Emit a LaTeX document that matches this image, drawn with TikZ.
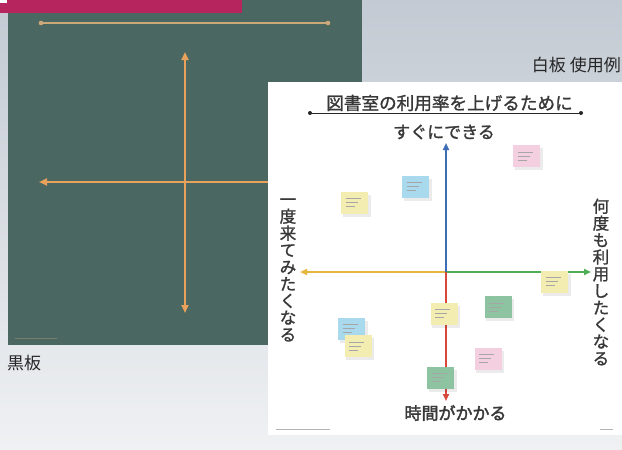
\documentclass[tikz,border=0pt]{standalone}
\usepackage{fontspec}
\setmainfont{Noto Sans CJK JP}
\newfontfamily\jpmed{Noto Sans CJK JP}[FakeBold=1.3]
\newfontfamily\jpbold{Noto Sans CJK JP}[FakeBold=2.2]
\usetikzlibrary{arrows.meta}
\definecolor{bgtop}{HTML}{C3CAD3}
\definecolor{bgbot}{HTML}{EFF1F3}
\definecolor{board}{HTML}{4A6761}
\definecolor{chalk}{HTML}{E9A25C}
\definecolor{chalkthin}{HTML}{CDA878}
\definecolor{mag}{HTML}{B7255F}
\definecolor{ink}{HTML}{383838}
\definecolor{axblue}{HTML}{3E6DB5}
\definecolor{axred}{HTML}{D9473B}
\definecolor{axyel}{HTML}{E7B63F}
\definecolor{axgrn}{HTML}{4DAE55}
\definecolor{ny}{HTML}{F3EDB2}
\definecolor{nb}{HTML}{A9D9EC}
\definecolor{np}{HTML}{F4CFE0}
\definecolor{ng}{HTML}{8DC3A0}
\tikzset{
  chalkarrow/.style={draw=chalk, line width=2.2pt, -{Triangle[length=8pt,width=7pt]}},
  axis/.style={line width=2pt, -{Triangle[length=7pt,width=6pt]}},
  note/.style={fill=#1, minimum width=27pt, minimum height=22pt, inner sep=0pt,
    path picture={
      \draw[gray!70, line width=0.5pt] ([shift={(-9,-4)}]path picture bounding box.center) -- ++(15,0);
      \draw[gray!70, line width=0.5pt] ([shift={(-9,0)}]path picture bounding box.center) -- ++(12,0);
      \draw[gray!70, line width=0.5pt] ([shift={(-9,4)}]path picture bounding box.center) -- ++(9,0);
    }},
  noteshadow/.style={fill=black, opacity=0.08},
  label/.style={font=\fontsize{17}{20}\selectfont, text=black!85, inner sep=0pt},
  wbtext/.style={font=\jpmed\fontsize{17}{19}\selectfont, text=ink, inner sep=0pt},
  vtext/.style={font=\jpmed\fontsize{16.5}{16.9}\selectfont, text=ink, align=center, inner sep=0pt},
}
\begin{document}
\begin{tikzpicture}[x=1pt,y=-1pt]
\useasboundingbox (0,0) rectangle (622,450);
% background
\shade[top color=bgtop, bottom color=bgbot] (0,0) rectangle (622,450);
% blackboard
\fill[board] (8,0) rectangle (362,345);
\fill[mag] (0,0) rectangle (242,13);
\fill[white] (0,0) rectangle (7,2.5);
% chalk drawing
\coordinate (tl) at (41,23);
\coordinate (tr) at (328,23);
\draw[chalkthin, line width=1.3pt] (tl) -- (tr);
\fill[chalkthin] (tl) circle (2.3) (tr) circle (2.3);
\coordinate (bc) at (185,182);
\coordinate (vt) at (185,52);
\coordinate (vb) at (185,313);
\coordinate (hl) at (39,182);
\coordinate (hr) at (340,182);
\draw[chalkarrow] (bc) -- (vt);
\draw[chalkarrow] (bc) -- (vb);
\draw[chalkarrow] (hr) -- (hl);
\coordinate (lg1) at (15,338);
\coordinate (lg2) at (57,338);
\draw[chalkthin, opacity=0.35, line width=0.8pt] (lg1) -- (lg2);
\node[label, anchor=west] (kokuban) at (7,363) {黒板};
\node[label, anchor=east] (hakuban) at (621,65) {白板 使用例};
% whiteboard
\fill[white] (268,82) rectangle (622,435);
\node[wbtext, font=\jpmed\fontsize{17.6}{19}\selectfont] (title) at (449.5,103) {図書室の利用率を上げるために};
\coordinate (ul) at (310,113);
\coordinate (ur) at (581,113);
\draw[black!85, line width=0.9pt] (ul) -- (ur);
\fill[black!85] (ul) circle (2) (ur) circle (2);
\node[wbtext] (top) at (444,132) {すぐにできる};
\node[wbtext, font=\jpbold\fontsize{17}{19}\selectfont] (bottom) at (455.5,413) {時間がかかる};
\node[vtext] (left) at (288,270) {一\\度\\来\\て\\み\\た\\く\\な\\る};
\node[vtext] (right) at (601,282) {何\\度\\も\\利\\用\\し\\た\\く\\な\\る};
% axes
\coordinate (c) at (446,272);
\coordinate (at) at (446,143);
\coordinate (ab) at (446,401);
\coordinate (al) at (300,272);
\coordinate (ar) at (591,272);
\draw[axis, axyel] (c) -- (al);
\draw[axis, axgrn] (c) -- (ar);
\draw[axis, axblue] (c) -- (at);
\draw[axis, axred] (c) -- (ab);
% sticky notes
\foreach \nm/\x/\y/\col in {n1/526.5/156/np, n2/415.5/186.5/nb, n3/354.5/202.5/ny,
  n4/554.5/281.5/ny, n5/444/313.5/ny, n6/498/307/ng, n7/351.5/328.5/nb,
  n8/358/346/ny, n9/488/358.5/np, n10/440.5/377.5/ng}{
  \fill[noteshadow] (\x-12,\y-8) rectangle (\x+16,\y+14);
  \node[note=\col] (\nm) at (\x,\y) {};
}
% small print
\coordinate (sp1) at (276,429);
\coordinate (sp2) at (330,429);
\coordinate (sp3) at (600,429);
\coordinate (sp4) at (613,429);
\draw[gray!60, line width=0.6pt] (sp1) -- (sp2);
\draw[gray!60, line width=0.6pt] (sp3) -- (sp4);
\end{tikzpicture}
\end{document}
